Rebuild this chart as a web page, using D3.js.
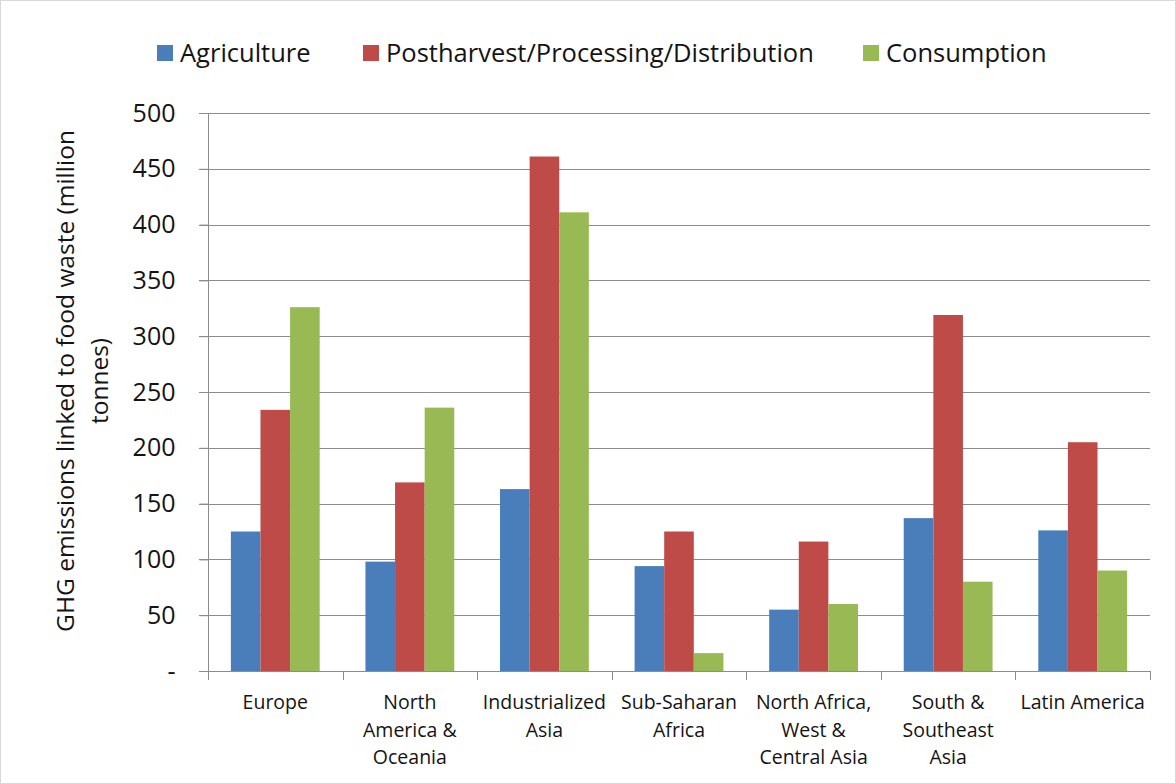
<!DOCTYPE html>
<html>
<head>
<meta charset="utf-8">
<script src="https://cdn.jsdelivr.net/npm/d3@7"></script>
<style>
  body { margin: 0; background: #fff; }
  svg { display: block; }
  text { font-family: "Open Sans", sans-serif; fill: #141414; }
</style>
</head>
<body>
<svg id="chart" width="1176" height="784"></svg>
<script>
// data
const regions = [
    ["Europe"],
    ["North", "America &", "Oceania"],
    ["Industrialized", "Asia"],
    ["Sub-Saharan", "Africa"],
    ["North Africa,", "West &", "Central Asia"],
    ["South &", "Southeast", "Asia"],
    ["Latin America"]
];
const seriesNames = ["Agriculture", "Postharvest/Processing/Distribution", "Consumption"];
const agriculture = [125, 98, 163, 94, 55, 137, 126];
const postharvest = [234, 169, 461, 125, 116, 319, 205];
const consumption = [326, 236, 411, 16, 60, 80, 90];
const yTicks = [0, 50, 100, 150, 200, 250, 300, 350, 400, 450, 500];

const colors = ["#4a7ebb", "#be4b48", "#98b954"];
const series = [agriculture, postharvest, consumption];

const svg = d3.select("#chart");
const W = 1176, H = 784;
const plotL = 208, plotR = 1150, plotT = 113, plotB = 671;

// outer frame
svg.append("rect")
    .attr("x", 0.5).attr("y", 0.5)
    .attr("width", W - 1).attr("height", H - 1)
    .attr("fill", "#fff").attr("stroke", "#d9d9d9");

const x0 = d3.scaleBand()
    .domain(d3.range(regions.length))
    .range([plotL, plotR])
    .paddingInner(0.34)
    .paddingOuter(0.17);

const x1 = d3.scaleBand()
    .domain(d3.range(series.length))
    .range([0, x0.bandwidth()]);

const y = d3.scaleLinear().domain([0, 500]).range([plotB, plotT]);

// gridlines
svg.append("g")
    .selectAll("line")
    .data(yTicks.filter(d => d > 0))
    .enter()
    .append("line")
    .attr("x1", plotL - 9).attr("x2", plotR)
    .attr("y1", d => Math.round(y(d)) + 0.5)
    .attr("y2", d => Math.round(y(d)) + 0.5)
    .attr("stroke", "#8c8c8c");

// bars
const groups = svg.append("g")
    .selectAll("g")
    .data(regions.map((r, i) => i))
    .enter()
    .append("g")
    .attr("transform", i => "translate(" + x0(i) + ",0)");

groups.selectAll("rect")
    .data(i => series.map((s, k) => ({ k: k, v: s[i] })))
    .enter()
    .append("rect")
    .attr("x", d => x1(d.k))
    .attr("y", d => y(d.v))
    .attr("width", x1.bandwidth())
    .attr("height", d => plotB - y(d.v))
    .attr("fill", d => colors[d.k]);

// y axis
const yAxis = d3.axisLeft(y)
    .tickValues(yTicks)
    .tickSize(9)
    .tickPadding(24)
    .tickFormat(d => d === 0 ? "-" : d);

const ya = svg.append("g")
    .attr("transform", "translate(" + (plotL + 0.5) + ",0)")
    .call(yAxis);
ya.select(".domain").attr("stroke", "#8c8c8c").attr("d", "M0," + plotT + "V" + (plotB + 0.5));
ya.selectAll(".tick line").attr("stroke", "#8c8c8c");
ya.selectAll(".tick text")
    .attr("font-size", 25)
    .attr("font-family", "Open Sans, sans-serif")
    .attr("fill", "#141414");

// x axis line and category ticks
const xg = svg.append("g");
xg.append("line")
    .attr("x1", plotL - 9).attr("x2", plotR)
    .attr("y1", plotB + 0.5).attr("y2", plotB + 0.5)
    .attr("stroke", "#8c8c8c");

const step = x0.step();
xg.selectAll(".ct")
    .data(d3.range(regions.length + 1))
    .enter()
    .append("line")
    .attr("class", "ct")
    .attr("x1", i => Math.round(plotL + i * step) + 0.5)
    .attr("x2", i => Math.round(plotL + i * step) + 0.5)
    .attr("y1", plotB).attr("y2", plotB + 9)
    .attr("stroke", "#8c8c8c");

const labels = xg.selectAll(".cl")
    .data(regions)
    .enter()
    .append("text")
    .attr("class", "cl")
    .attr("text-anchor", "middle")
    .attr("font-size", 19.5)
    .attr("transform", (d, i) => "translate(" + (plotL + (i + 0.5) * step) + "," + (plotB + 38) + ")");

labels.selectAll("tspan")
    .data(d => d)
    .enter()
    .append("tspan")
    .attr("x", 0)
    .attr("dy", (d, j) => j === 0 ? 0 : 27.5)
    .text(d => d);

// y axis title
const yt = svg.append("text")
    .attr("transform", "translate(74,381) rotate(-90)")
    .attr("text-anchor", "middle")
    .attr("font-size", 24.5);
yt.append("tspan").attr("x", 0).attr("dy", 0).text("GHG emissions linked to food waste (million");
yt.append("tspan").attr("x", 0).attr("dy", 34).text("tonnes)");

// legend
const legendX = [157, 363, 863];
const lg = svg.append("g")
    .selectAll("g")
    .data(seriesNames)
    .enter()
    .append("g")
    .attr("transform", (d, i) => "translate(" + legendX[i] + ",45)");

lg.append("rect")
    .attr("width", 16).attr("height", 16)
    .attr("fill", (d, i) => colors[i]);

lg.append("text")
    .attr("x", 23).attr("y", 17)
    .attr("font-size", 25.5)
    .text(d => d);
</script>
</body>
</html>
